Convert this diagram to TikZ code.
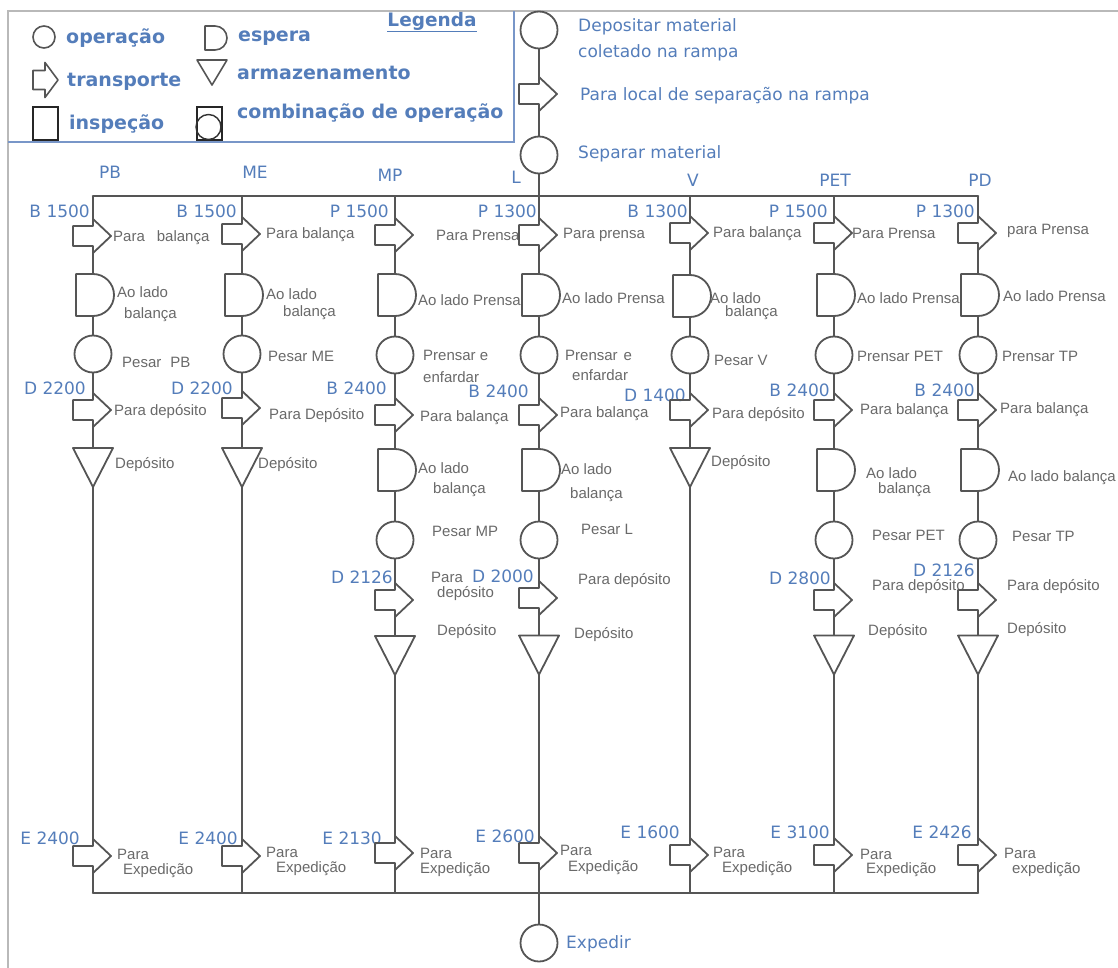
\documentclass[tikz,border=0pt]{standalone}
\usepackage{fontspec}
\setmainfont{Liberation Sans}
\newfontfamily\dvsans{DejaVu Sans}
\definecolor{tblue}{RGB}{84,125,186}
\definecolor{tgray}{RGB}{105,105,105}
\definecolor{sgray}{RGB}{85,85,85}
\definecolor{fgray}{RGB}{185,185,185}
\definecolor{lblue}{RGB}{120,150,200}
\tikzset{
  anc/.style={inner sep=0pt,outer sep=0pt,minimum width=0pt,minimum height=0pt},
  shp/.style={draw=sgray,line width=1.8pt,line join=round},
  opc/.style={circle,draw=sgray,line width=1.8pt,inner sep=0pt,outer sep=0pt,minimum size=37pt},
  conn/.style={draw=sgray,line width=1.4pt},
  mainl/.style={draw=sgray,line width=2.6pt,line cap=round,line join=round},
  gtxt/.style={font=\fontsize{15}{17}\selectfont,text=tgray,anchor=west,inner sep=0pt},
  code/.style={font=\dvsans\fontsize{17}{19}\selectfont,text=tblue,anchor=east,inner sep=0pt},
  head/.style={font=\dvsans\fontsize{17}{19}\selectfont,text=tblue,inner sep=0pt},
  btxt/.style={font=\dvsans\fontsize{17}{19}\selectfont,text=tblue,anchor=west,inner sep=0pt},
  leg/.style={font=\dvsans\bfseries\fontsize{19}{22}\selectfont,text=tblue,anchor=west,inner sep=0pt},
}
% process symbols: operation, transport, delay, storage
\newcommand\OpN[3]{\node[opc] (#1) at (#2,#3) {};}
\newcommand\TrN[3]{\node[anc,minimum height=34pt] (#1) at (#2,#3) {};
  \draw[shp,shift={(#1.center)}] (-20,-10)--(0,-10)--(0,-17)--(18,0)--(0,17)--(0,10)--(-20,10)--cycle;}
\newcommand\WtN[3]{\node[anc,minimum height=42pt] (#1) at (#2,#3) {};
  \draw[shp,shift={(#1.center)}] (0,-21)--(-17,-21)--(-17,21)--(0,21) arc[start angle=90,end angle=-90,radius=21]--cycle;}
\newcommand\StN[3]{\node[anc,minimum height=39pt] (#1) at (#2,#3) {};
  \draw[shp,shift={(#1.center)}] (-20,-19.5)--(20,-19.5)--(0,19.5)--cycle;}
\newcommand\GT[4]{\node[gtxt] (#1) at (#2,#3) {#4};}
\newcommand\CD[4]{\node[code] (#1) at (#2,#3) {#4};}
\begin{document}
\begin{tikzpicture}[x=1pt,y=-1pt]
\useasboundingbox (0,0) rectangle (1118,968);
\clip (0,0) rectangle (1118,968);

% outer frame
\draw[fgray,line width=2pt] (1118,11) -- (8,11) -- (8,968);

% legend
\draw[lblue,line width=1.3pt] (8,142) -- (514,142) -- (514,11);
\node[font=\dvsans\bfseries\fontsize{18.5}{20}\selectfont,text=tblue,inner sep=0pt] (legtitle) at (432,22) {\underline{Legenda}};
\node[circle,draw=sgray,line width=1.6pt,minimum size=22pt,inner sep=0pt] (lgop) at (44,37) {};
\node[leg] (lgopt) at (66,38) {operação};
\node[anc,minimum height=24pt] (lgwt) at (215,38) {};
\draw[shp,line width=1.6pt,shift={(lgwt.center)}] (0,-12)--(-10,-12)--(-10,12)--(0,12) arc[start angle=90,end angle=-90,radius=12]--cycle;
\node[leg] (lgwtt) at (238,38) {espera};
\node[anc,minimum height=35pt] (lgtr) at (45,80) {};
\draw[shp,line width=1.6pt,shift={(lgtr.center)}] (-12,-9.5)--(0,-9.5)--(0,-17.5)--(13,0)--(0,17.5)--(0,9.5)--(-12,9.5)--cycle;
\node[leg] (lgtrt) at (67,82) {transporte};
\node[anc,minimum height=25pt] (lgst) at (212,72.5) {};
\draw[shp,line width=1.6pt,shift={(lgst.center)}] (-15,-12.5)--(15,-12.5)--(0,12.5)--cycle;
\node[leg] (lgstt) at (237,73) {armazenamento};
\node[draw=black!85,line width=1.6pt,minimum width=25pt,minimum height=33pt,inner sep=0pt] (lgin) at (45.5,123.5) {};
\node[leg] (lgint) at (69,124) {inspeção};
\node[draw=black!85,line width=1.6pt,minimum width=25pt,minimum height=33pt,inner sep=0pt] (lgcb) at (209.5,123.5) {};
\node[circle,draw=black!80,line width=1.4pt,minimum size=25pt,inner sep=0pt] (lgcbc) at (208.5,127) {};
\node[leg] (lgcbt) at (237,113) {combinação de operação};

% main flow, top
\OpN{dep}{539}{30}
\TrN{ta}{539}{94}
\OpN{sep}{539}{155}
\node[btxt] (dept1) at (578,27) {Depositar material};
\node[btxt] (dept2) at (578,53) {coletado na rampa};
\node[btxt] (tat) at (580,96) {Para local de separação na rampa};
\node[btxt] (sept) at (578,154) {Separar material};

% column heads
\node[head] (hpb) at (110,172) {PB};
\node[head] (hme) at (255,172) {ME};
\node[head] (hmp) at (390,175) {MP};
\node[head] (hl) at (516,177) {L};
\node[head] (hv) at (693,180) {V};
\node[head] (hpet) at (835,180) {PET};
\node[head] (hpd) at (980,180) {PD};

% junction points of the distribution and collection lines
\foreach \n/\x in {pb/93,me/242,mp/395,l/539,v/690,pe/834,pd/978}{
  \node[anc] (\n0) at (\x,196) {};
  \node[anc] (\n E) at (\x,893) {};
}

% PB
\CD{cpb1}{90}{211}{B 1500}
\TrN{pb1}{93}{236} \GT{tpb1}{113}{238}{Para\hspace{12pt}balança}
\WtN{pb2}{93}{295} \GT{tpb2a}{117}{292}{Ao lado} \GT{tpb2b}{124}{315}{balança}
\OpN{pb3}{93}{354} \GT{tpb3}{122}{362}{Pesar\hspace{9pt}PB}
\CD{cpb4}{86}{388}{D 2200}
\TrN{pb4}{93}{410} \GT{tpb4}{114}{412}{Para depósito}
\StN{pb5}{93}{467.5} \GT{tpb5}{115}{465}{Depósito}
\CD{cpb6}{80}{838}{E 2400}
\TrN{pb6}{93}{856} \GT{tpb6a}{117}{854}{Para} \GT{tpb6b}{123}{871}{Expedição}

% ME
\CD{cme1}{237}{211}{B 1500}
\TrN{me1}{242}{234} \GT{tme1}{266}{235}{Para balança}
\WtN{me2}{242}{295} \GT{tme2a}{266}{294}{Ao lado} \GT{tme2b}{283}{313}{balança}
\OpN{me3}{242}{354} \GT{tme3}{268}{356}{Pesar ME}
\CD{cme4}{233}{388}{D 2200}
\TrN{me4}{242}{408} \GT{tme4}{269}{416}{Para Depósito}
\StN{me5}{242}{467.5} \GT{tme5}{258}{465}{Depósito}
\CD{cme6}{238}{838}{E 2400}
\TrN{me6}{242}{856} \GT{tme6a}{266}{852}{Para} \GT{tme6b}{276}{869}{Expedição}

% MP
\CD{cmp1}{389}{211}{P 1500}
\TrN{mp1}{395}{235} \GT{tmp1}{436}{235}{Para Prensa}
\WtN{mp2}{395}{295} \GT{tmp2}{418}{300}{Ao lado Prensa}
\OpN{mp3}{395}{355} \GT{tmp3a}{423}{355}{Prensar e} \GT{tmp3b}{423}{377}{enfardar}
\CD{cmp4}{387}{388}{B 2400}
\TrN{mp4}{395}{415} \GT{tmp4}{420}{418}{Para balança}
\WtN{mp5}{395}{470} \GT{tmp5a}{418}{468}{Ao lado} \GT{tmp5b}{433}{490}{balança}
\OpN{mp6}{395}{540} \GT{tmp6}{432}{531}{Pesar MP}
\CD{cmp7}{393}{577}{D 2126}
\TrN{mp7}{395}{600} \GT{tmp7a}{431}{577}{Para} \GT{tmp7b}{437}{594}{depósito}
\StN{mp8}{395}{655.5} \GT{tmp8}{437}{632}{Depósito}
\CD{cmp9}{382}{838}{E 2130}
\TrN{mp9}{395}{853} \GT{tmp9a}{420}{853}{Para} \GT{tmp9b}{420}{870}{Expedição}

% L
\CD{cl1}{537}{211}{P 1300}
\TrN{l1}{539}{235} \GT{tl1}{563}{235}{Para prensa}
\WtN{l2}{539}{295} \GT{tl2}{562}{298}{Ao lado Prensa}
\OpN{l3}{539}{355} \GT{tl3a}{565}{355}{Prensar\hspace{6pt}e} \GT{tl3b}{572}{375}{enfardar}
\CD{cl4}{529}{391}{B 2400}
\TrN{l4}{539}{415} \GT{tl4}{560}{414}{Para balança}
\WtN{l5}{539}{470} \GT{tl5a}{561}{469}{Ao lado} \GT{tl5b}{570}{495}{balança}
\OpN{l6}{539}{540} \GT{tl6}{581}{529}{Pesar L}
\CD{cl7}{534}{576}{D 2000}
\TrN{l7}{539}{598} \GT{tl7}{578}{581}{Para depósito}
\StN{l8}{539}{655} \GT{tl8}{574}{635}{Depósito}
\CD{cl9}{535}{836}{E 2600}
\TrN{l9}{539}{853} \GT{tl9a}{560}{850}{Para} \GT{tl9b}{568}{868}{Expedição}

% V
\CD{cv1}{688}{211}{B 1300}
\TrN{v1}{690}{233} \GT{tv1}{713}{234}{Para balança}
\WtN{v2}{690}{296} \GT{tv2a}{710}{298}{Ao lado} \GT{tv2b}{725}{313}{balança}
\OpN{v3}{690}{355} \GT{tv3}{714}{360}{Pesar V}
\CD{cv4}{686}{395}{D 1400}
\TrN{v4}{690}{410} \GT{tv4}{712}{415}{Para depósito}
\StN{v5}{690}{467.5} \GT{tv5}{711}{463}{Depósito}
\CD{cv6}{680}{832}{E 1600}
\TrN{v6}{690}{855} \GT{tv6a}{713}{852}{Para} \GT{tv6b}{722}{869}{Expedição}

% PET
\CD{cpe1}{828}{211}{P 1500}
\TrN{pe1}{834}{233} \GT{tpe1}{852}{233}{Para Prensa}
\WtN{pe2}{834}{295} \GT{tpe2}{857}{298}{Ao lado Prensa}
\OpN{pe3}{834}{355} \GT{tpe3}{857}{356}{Prensar PET}
\CD{cpe4}{830}{390}{B 2400}
\TrN{pe4}{834}{410} \GT{tpe4}{860}{411}{Para balança}
\WtN{pe5}{834}{470} \GT{tpe5a}{866}{473}{Ao lado} \GT{tpe5b}{878}{490}{balança}
\OpN{pe6}{834}{540} \GT{tpe6}{872}{535}{Pesar PET}
\CD{cpe7}{831}{578}{D 2800}
\TrN{pe7}{834}{600} \GT{tpe7}{872}{587}{Para depósito}
\StN{pe8}{834}{655} \GT{tpe8}{868}{632}{Depósito}
\CD{cpe9}{830}{832}{E 3100}
\TrN{pe9}{834}{855} \GT{tpe9a}{860}{854}{Para} \GT{tpe9b}{866}{870}{Expedição}

% PD
\CD{cpd1}{975}{211}{P 1300}
\TrN{pd1}{978}{233} \GT{tpd1}{1007}{231}{para Prensa}
\WtN{pd2}{978}{295} \GT{tpd2}{1003}{296}{Ao lado Prensa}
\OpN{pd3}{978}{355} \GT{tpd3}{1002}{356}{Prensar TP}
\CD{cpd4}{975}{390}{B 2400}
\TrN{pd4}{978}{410} \GT{tpd4}{1000}{410}{Para balança}
\WtN{pd5}{978}{470} \GT{tpd5}{1008}{478}{Ao lado balança}
\OpN{pd6}{978}{540} \GT{tpd6}{1012}{536}{Pesar TP}
\CD{cpd7}{975}{570}{D 2126}
\TrN{pd7}{978}{600} \GT{tpd7}{1007}{587}{Para depósito}
\StN{pd8}{978}{655} \GT{tpd8}{1007}{630}{Depósito}
\CD{cpd9}{972}{832}{E 2426}
\TrN{pd9}{978}{855} \GT{tpd9a}{1004}{853}{Para} \GT{tpd9b}{1012}{870}{expedição}

% final operation
\OpN{exp}{539}{943}
\node[btxt] (expt) at (566,944) {Expedir};

% distribution and collection lines
\draw[mainl] (pb0.center) -- (pd0.center);
\draw[mainl] (pbE.center) -- (pdE.center);

% connectors along each column
\foreach \a/\b in {dep/ta,ta/sep,sep/l0,lE/exp,
  pb0/pb1,pb1/pb2,pb2/pb3,pb3/pb4,pb4/pb5,pb5/pb6,pb6/pbE,
  me0/me1,me1/me2,me2/me3,me3/me4,me4/me5,me5/me6,me6/meE,
  mp0/mp1,mp1/mp2,mp2/mp3,mp3/mp4,mp4/mp5,mp5/mp6,mp6/mp7,mp7/mp8,mp8/mp9,mp9/mpE,
  l0/l1,l1/l2,l2/l3,l3/l4,l4/l5,l5/l6,l6/l7,l7/l8,l8/l9,l9/lE,
  v0/v1,v1/v2,v2/v3,v3/v4,v4/v5,v5/v6,v6/vE,
  pe0/pe1,pe1/pe2,pe2/pe3,pe3/pe4,pe4/pe5,pe5/pe6,pe6/pe7,pe7/pe8,pe8/pe9,pe9/peE,
  pd0/pd1,pd1/pd2,pd2/pd3,pd3/pd4,pd4/pd5,pd5/pd6,pd6/pd7,pd7/pd8,pd8/pd9,pd9/pdE}
  \draw[conn] (\a.south) -- (\b.north);
\end{tikzpicture}
\end{document}
